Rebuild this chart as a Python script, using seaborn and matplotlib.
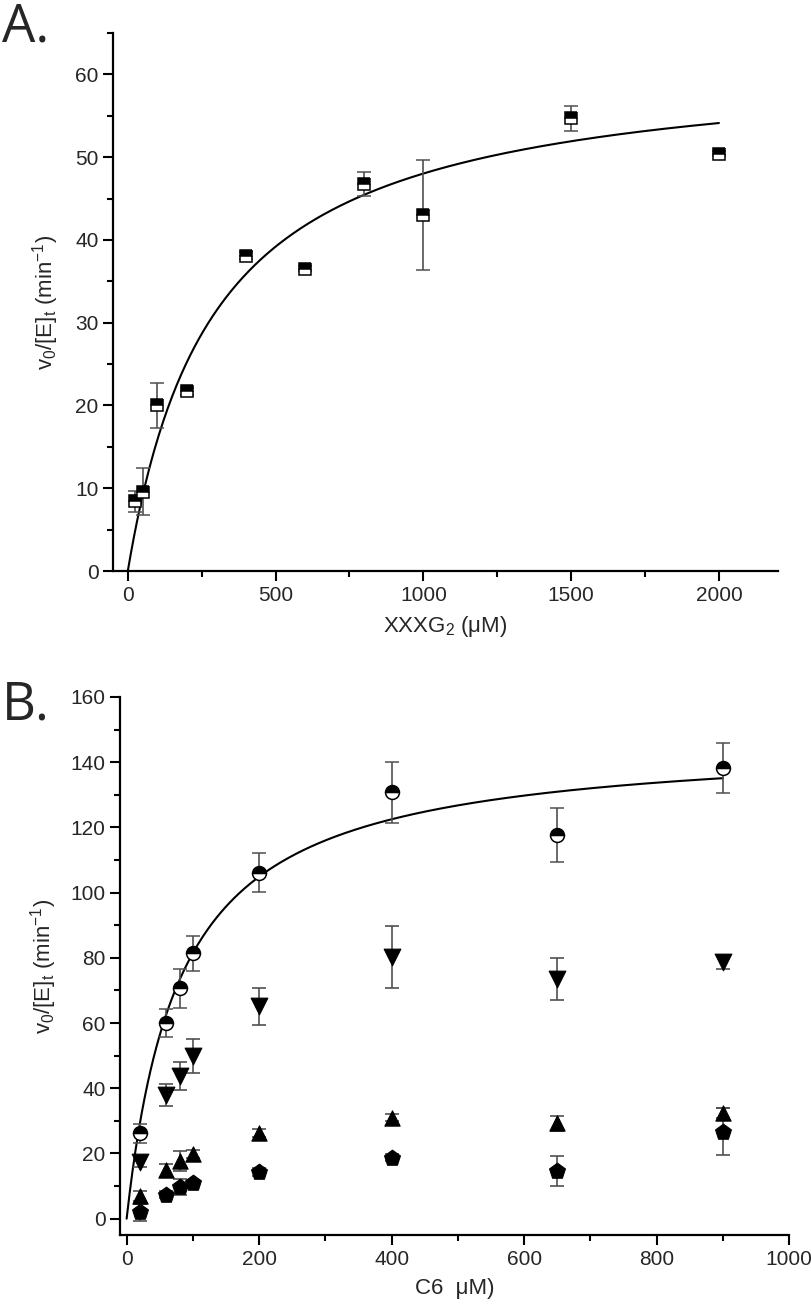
import matplotlib
matplotlib.use("Agg")
import matplotlib.pyplot as plt
import seaborn as sns
import numpy as np
import pandas as pd
from matplotlib.ticker import MultipleLocator

# Panel A data: XXXG2
a_conc = [25, 50, 100, 200, 400, 600, 800, 1000, 1500, 2000]
a_rate = [8.4, 9.6, 20.0, 21.7, 38.1, 36.5, 46.7, 43.0, 54.7, 50.4]
a_err = [1.25, 2.85, 2.7, 0.4, 0.4, 0.3, 1.45, 6.65, 1.5, 0.3]
a_vmax, a_km = 62.0, 291.0

# Panel B data: C6
b_conc = [20, 60, 80, 100, 200, 400, 650, 900]
b_circle = [26.2, 60.0, 70.7, 81.4, 106.1, 130.7, 117.6, 138.2]
b_circle_err = [2.9, 4.2, 6.0, 5.4, 6.0, 9.5, 8.2, 7.7]
b_down = [17.3, 37.8, 43.6, 49.9, 65.1, 80.2, 73.5, 78.7]
b_down_err = [1.5, 3.4, 4.3, 5.2, 5.6, 9.4, 6.4, 2.2]
b_up = [6.9, 14.9, 17.6, 19.7, 26.2, 31.0, 29.2, 32.5]
b_up_err = [1.5, 2.0, 3.0, 1.2, 1.2, 1.0, 2.4, 1.5]
b_pent = [1.9, 7.4, 9.8, 11.0, 14.3, 18.7, 14.6, 26.7]
b_pent_err = [2.5, 1.0, 2.5, 1.0, 1.2, 1.0, 4.5, 7.3]
b_vmax, b_km = 147.2, 80.7

sns.set_style("ticks")
plt.rcParams['font.family'] = ['Liberation Sans', 'DejaVu Sans']
plt.rcParams['mathtext.default'] = 'regular'
plt.rcParams['axes.linewidth'] = 1.6

lab_font = {'family': ['Liberation Sans', 'DejaVu Sans'], 'size': 16}
ecol = '#505050'

fig = plt.figure(figsize=(8.12, 13.16), dpi=100)
axA = fig.add_axes([0.1392, 0.5661, 0.819, 0.4088])
axB = fig.add_axes([0.1478, 0.0616, 0.824, 0.4088])

def style_axis(ax):
    sns.despine(ax=ax)
    ax.tick_params(which='major', direction='out', length=7, width=1.5, labelsize=15, color='black')
    ax.tick_params(which='minor', direction='out', length=4.5, width=1.5, color='black')
    for s in ['left', 'bottom']:
        ax.spines[s].set_color('black')

# ---- Panel A
sA = np.linspace(0, 2000, 400)
fitA = pd.DataFrame({'s': sA, 'v': a_vmax * sA / (a_km + sA)})
sns.lineplot(data=fitA, x='s', y='v', color='black', lw=1.5, ax=axA)
axA.errorbar(a_conc, a_rate, yerr=a_err, fmt='s', ms=9, mfc='black', mfcalt='white',
             fillstyle='top', mec='black', mew=1.1, ecolor=ecol, elinewidth=1.2,
             capsize=5, capthick=1.2, zorder=3)
axA.set_xlim(-50, 2200)
axA.set_ylim(0, 65)
axA.xaxis.set_major_locator(MultipleLocator(500))
axA.xaxis.set_minor_locator(MultipleLocator(250))
axA.yaxis.set_major_locator(MultipleLocator(10))
axA.yaxis.set_minor_locator(MultipleLocator(5))
style_axis(axA)
axA.set_xlabel('XXXG$_2$ (μM)', fontdict=lab_font, labelpad=7)
axA.set_ylabel('v$_0$/[E]$_t$ (min$^{-1}$)', fontdict=lab_font, labelpad=10)

# ---- Panel B
sB = np.linspace(0, 900, 400)
fitB = pd.DataFrame({'s': sB, 'v': b_vmax * sB / (b_km + sB)})
sns.lineplot(data=fitB, x='s', y='v', color='black', lw=1.5, ax=axB)
axB.errorbar(b_conc, b_circle, yerr=b_circle_err, fmt='o', ms=10, mfc='black', mfcalt='white',
             fillstyle='top', mec='black', mew=1.1, ecolor=ecol, elinewidth=1.2,
             capsize=5, capthick=1.2, zorder=3)
for vals, errs, mk, ms in [(b_down, b_down_err, 'v', 12), (b_up, b_up_err, '^', 11),
                           (b_pent, b_pent_err, 'p', 12)]:
    axB.errorbar(b_conc, vals, yerr=errs, fmt='none', ecolor=ecol, elinewidth=1.2,
                 capsize=5, capthick=1.2, zorder=2)
    sns.scatterplot(x=b_conc, y=vals, marker=mk, s=ms ** 2, color='black',
                    edgecolor='black', linewidth=0.8, ax=axB, zorder=3)
axB.set_xlim(-10, 1000)
axB.set_ylim(-5, 160)
axB.xaxis.set_major_locator(MultipleLocator(200))
axB.xaxis.set_minor_locator(MultipleLocator(100))
axB.yaxis.set_major_locator(MultipleLocator(20))
axB.yaxis.set_minor_locator(MultipleLocator(10))
style_axis(axB)
axB.set_xlabel('C6  μM)', fontdict=lab_font, labelpad=7)
axB.set_ylabel('v$_0$/[E]$_t$ (min$^{-1}$)', fontdict=lab_font, labelpad=8)

fig.text(0.002, 0.999, 'A.', fontsize=38, family=['Open Sans', 'DejaVu Sans'], va='top', ha='left')
fig.text(0.002, 0.484, 'B.', fontsize=38, family=['Open Sans', 'DejaVu Sans'], va='top', ha='left')

fig.savefig('out.png', dpi=100, facecolor='white')
